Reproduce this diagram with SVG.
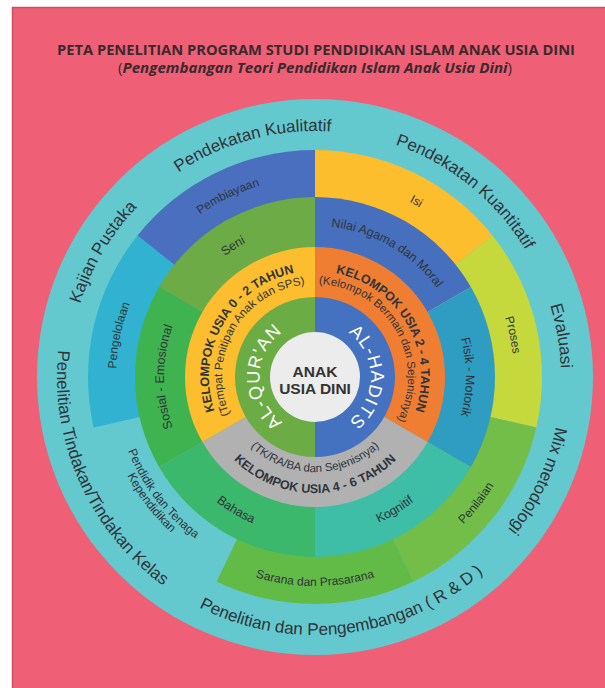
<svg xmlns="http://www.w3.org/2000/svg" width="605" height="688" viewBox="0 0 605 688">
<defs>
<style>
text{font-family:"Liberation Sans",Arial,sans-serif;fill:#2f343a}
.t1{font-family:"Open Sans","Liberation Sans",sans-serif;font-weight:bold;font-size:14px;fill:#3a2a2d}
.t2{font-family:"Open Sans","Liberation Sans",sans-serif;font-size:14px;fill:#3a2a2d}
.o{font-size:17px}
.s5{font-size:12px}
.s4{font-size:12.5px}
.kb{font-size:12.5px;font-weight:bold}
.kr{font-size:11.5px}
.al{font-size:18px;fill:#ffffff;letter-spacing:1px}
.c{font-size:15.5px;font-weight:bold;fill:#333333}
.m{text-anchor:middle}
</style>
<path id="cw246" d="M0,246A246,246 0 0 1 0,-246A246,246 0 0 1 0,246"/>
<path id="ccw258" d="M0,-258A258,258 0 0 0 0,258A258,258 0 0 0 0,-258"/>
<path id="cw199" d="M0,199A199,199 0 0 1 0,-199A199,199 0 0 1 0,199"/>
<path id="ccw209" d="M0,-209A209,209 0 0 0 0,209A209,209 0 0 0 0,-209"/>
<path id="ccw201" d="M0,-201A201,201 0 0 0 0,201A201,201 0 0 0 0,-201"/>
<path id="ccw212" d="M0,-212A212,212 0 0 0 0,212A212,212 0 0 0 0,-212"/>
<path id="cw151" d="M0,151A151,151 0 0 1 0,-151A151,151 0 0 1 0,151"/>
<path id="ccw159" d="M0,-159A159,159 0 0 0 0,159A159,159 0 0 0 0,-159"/>
<path id="cw106" d="M0,106A106,106 0 0 1 0,-106A106,106 0 0 1 0,106"/>
<path id="cw93" d="M0,93A93,93 0 0 1 0,-93A93,93 0 0 1 0,93"/>
<path id="ccw95" d="M0,-95A95,95 0 0 0 0,95A95,95 0 0 0 0,-95"/>
<path id="ccw116" d="M0,-116A116,116 0 0 0 0,116A116,116 0 0 0 0,-116"/>
<path id="cw55" d="M0,55.5A55.5,55.5 0 0 1 0,-55.5A55.5,55.5 0 0 1 0,55.5"/>
</defs>
<rect x="0" y="0" width="605" height="688" fill="#ffffff"/>
<rect x="12.5" y="7.5" width="600" height="690" fill="#ef5f76" stroke="#d24d61" stroke-width="1.5"/>
<g id="title">
<text class="t1" x="57" y="55" textLength="518" lengthAdjust="spacingAndGlyphs">PETA PENELITIAN PROGRAM STUDI PENDIDIKAN ISLAM ANAK USIA DINI</text>
<text class="t2" x="118" y="73" textLength="394" lengthAdjust="spacingAndGlyphs">(<tspan font-style="italic" font-weight="bold">Pengembangan Teori Pendidikan Islam Anak Usia Dini</tspan>)</text>
</g>
<g transform="translate(315,377)">
<g id="outer-ring">
<circle r="278" fill="#64c8cf"/>
<g id="pendekatan-kualitatif" transform="rotate(-15)"><text class="o m"><textPath href="#cw246" startOffset="50%">Pendekatan Kualitatif</textPath></text></g>
<g id="pendekatan-kuantitatif" transform="rotate(39)"><text class="o m"><textPath href="#cw246" startOffset="50%">Pendekatan Kuantitatif</textPath></text></g>
<g id="evaluasi" transform="rotate(80.5)"><text class="o m"><textPath href="#cw246" startOffset="50%">Evaluasi</textPath></text></g>
<g id="mix-metodologi" transform="rotate(115)"><text class="o m"><textPath href="#cw246" startOffset="50%">Mix metodologi</textPath></text></g>
<g id="penelitian-pengembangan" transform="rotate(-7)"><text class="o m"><textPath href="#ccw258" startOffset="50%">Penelitian dan Pengembangan ( R &amp; D )</textPath></text></g>
<g id="penelitian-tindakan" transform="rotate(66)"><text class="o m"><textPath href="#ccw258" startOffset="50%">Penelitian Tindakan/Tindakan Kelas</textPath></text></g>
<g id="kajian-pustaka" transform="rotate(-59.5)"><text class="o m"><textPath href="#cw246" startOffset="50%">Kajian Pustaka</textPath></text></g>
</g>
<g id="isi"><path d="M0,0L0,-227A227,227 0 0 1 177.47,-141.53Z" fill="#fcbe2c"/>
<g transform="rotate(30)"><text class="s5 m"><textPath href="#cw199" startOffset="50%">Isi</textPath></text></g></g>
<g id="proses"><path d="M0,0L177.47,-141.53A227,227 0 0 1 221.3,50.51Z" fill="#c5d83c"/>
<g transform="rotate(78)"><text class="s5 m"><textPath href="#cw199" startOffset="50%">Proses</textPath></text></g></g>
<g id="penilaian"><path d="M0,0L221.3,50.51A227,227 0 0 1 98.5,204.53Z" fill="#72be48"/>
<g transform="rotate(-52)"><text class="s5 m"><textPath href="#ccw209" startOffset="50%">Penilaian</textPath></text></g></g>
<g id="sarana"><path d="M0,0L98.5,204.53A227,227 0 0 1 -98.5,204.53Z" fill="#63bb47"/>
<g transform="rotate(0)"><text class="s5 m"><textPath href="#ccw209" startOffset="50%">Sarana dan Prasarana</textPath></text></g></g>
<g id="pendidik"><path d="M0,0L-98.5,204.53A227,227 0 0 1 -221.3,50.51Z" fill="#64c8cf"/>
<g transform="rotate(52.5)"><text class="s5 m"><textPath href="#ccw201" startOffset="50%">Pendidik dan Tenaga</textPath></text>
<text class="s5 m"><textPath href="#ccw212" startOffset="50%">Kependidikan</textPath></text></g></g>
<g id="pengelolaan"><path d="M0,0L-221.3,50.51A227,227 0 0 1 -177.47,-141.53Z" fill="#30b2d0"/>
<g transform="rotate(-78)"><text class="s5 m"><textPath href="#cw199" startOffset="50%">Pengelolaan</textPath></text></g></g>
<g id="pembiayaan"><path d="M0,0L-177.47,-141.53A227,227 0 0 1 0,-227Z" fill="#4a6fbf"/>
<g transform="rotate(-25.7)"><text class="s5 m"><textPath href="#cw199" startOffset="50%">Pembiayaan</textPath></text></g></g>
<g id="nilai-agama"><path d="M0,0L0,-180A180,180 0 0 1 155.88,-90Z" fill="#4670be"/>
<g transform="rotate(30)"><text class="s4 m"><textPath href="#cw151" startOffset="50%">Nilai Agama dan Moral</textPath></text></g></g>
<g id="fisik-motorik"><path d="M0,0L155.88,-90A180,180 0 0 1 155.88,90Z" fill="#2f9dc2"/>
<g transform="rotate(90)"><text class="s4 m"><textPath href="#cw151" startOffset="50%">Fisik - Motorik</textPath></text></g></g>
<g id="kognitif"><path d="M0,0L155.88,90A180,180 0 0 1 0,180Z" fill="#3ebea6"/>
<g transform="rotate(-31)"><text class="s4 m"><textPath href="#ccw159" startOffset="50%">Kognitif</textPath></text></g></g>
<g id="bahasa"><path d="M0,0L0,180A180,180 0 0 1 -155.88,90Z" fill="#3bb86b"/>
<g transform="rotate(30.7)"><text class="s4 m"><textPath href="#ccw159" startOffset="50%">Bahasa</textPath></text></g></g>
<g id="sosial-emosional"><path d="M0,0L-155.88,90A180,180 0 0 1 -155.88,-90Z" fill="#3fb34f"/>
<g transform="rotate(-90)"><text class="s4 m"><textPath href="#cw151" startOffset="50%">Sosial - Emosional</textPath></text></g></g>
<g id="seni"><path d="M0,0L-155.88,-90A180,180 0 0 1 0,-180Z" fill="#6cab45"/>
<g transform="rotate(-32)"><text class="s4 m"><textPath href="#cw151" startOffset="50%">Seni</textPath></text></g></g>
<g id="usia-2-4"><path d="M0,0L0,-130A130,130 0 0 1 112.58,65Z" fill="#ef7e33"/>
<g transform="rotate(60)"><text class="kb m"><textPath href="#cw106" startOffset="50%">KELOMPOK USIA 2 - 4 TAHUN</textPath></text>
<text class="kr m"><textPath href="#cw93" startOffset="50%">(Kelompok Bermain dan Sejenisnya)</textPath></text></g></g>
<g id="usia-4-6"><path d="M0,0L112.58,65A130,130 0 0 1 -112.58,65Z" fill="#b1b1b1"/>
<g><text class="kr m"><textPath href="#ccw95" startOffset="50%">(TK/RA/BA dan Sejenisnya)</textPath></text>
<text class="kb m"><textPath href="#ccw116" startOffset="50%">KELOMPOK USIA 4 - 6 TAHUN</textPath></text></g></g>
<g id="usia-0-2"><path d="M0,0L-112.58,65A130,130 0 0 1 0,-130Z" fill="#fcbe2e"/>
<g transform="rotate(-60)"><text class="kb m"><textPath href="#cw106" startOffset="50%">KELOMPOK USIA 0 - 2 TAHUN</textPath></text>
<text class="kr m"><textPath href="#cw93" startOffset="50%">(Tempat Penitipan Anak dan SPS)</textPath></text></g></g>
<g id="al-hadits"><path d="M0,-80A80,80 0 0 1 0,80Z" fill="#4571c1"/>
<g transform="rotate(90)"><text class="al m"><textPath href="#cw55" startOffset="50%">AL-HADITS</textPath></text></g></g>
<g id="al-quran"><path d="M0,80A80,80 0 0 1 0,-80Z" fill="#6bac45"/>
<g transform="rotate(-90)"><text class="al m"><textPath href="#cw55" startOffset="50%">AL-QUR'AN</textPath></text></g></g>
<g id="anak-usia-dini"><circle r="45" fill="#ececec"/>
<text class="c m" x="0" y="0">ANAK</text>
<text class="c m" x="0" y="16.5">USIA DINI</text></g>
</g>
</svg>
